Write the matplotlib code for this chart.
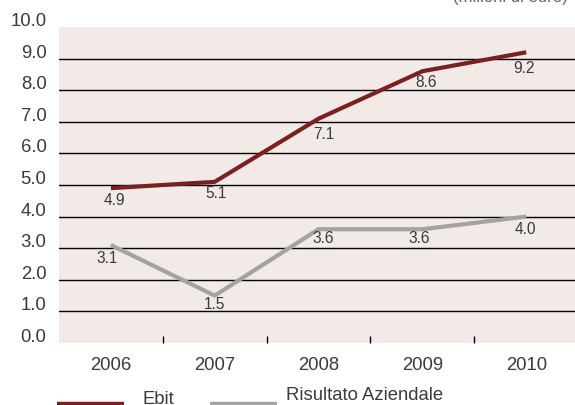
import matplotlib
matplotlib.use('Agg')
import matplotlib.pyplot as plt
from matplotlib.lines import Line2D
from matplotlib.ticker import FixedLocator
from matplotlib.transforms import ScaledTranslation

plt.rcParams['font.family'] = ['Liberation Sans', 'DejaVu Sans']

years = ['2006', '2007', '2008', '2009', '2010']
ebit = [4.9, 5.1, 7.1, 8.6, 9.2]
risultato = [3.1, 1.5, 3.6, 3.6, 4.0]
series_names = ['Ebit', 'Risultato Aziendale']
y_ticks = [0, 1, 2, 3, 4, 5, 6, 7, 8, 9, 10]

EBIT_COLOR = '#7b1f1f'
RIS_COLOR = '#a3a3a3'
BG_COLOR = '#f2eae7'
TEXT_COLOR = '#3a3a3a'

# label offsets in pixels (dx, dy) for each point
ebit_offsets = [(3, -12), (1, -12), (5, -16), (4, -11), (-2, -16)]
ris_offsets = [(-4, -13), (0, -9), (5, -9), (-3, -9), (-1, -13)]

W, H = 575, 405
fig = plt.figure(figsize=(W / 100, H / 100), dpi=100)
ax = fig.add_axes([59 / W, (H - 343) / H, 1 - 59 / W, 316 / H])
ax.set_facecolor(BG_COLOR)

x = list(range(len(years)))
ax.set_xlim(-0.5, 4.47)
ax.set_ylim(0, 10)

for v in y_ticks[1:-1]:
    ax.axhline(v, color='black', lw=1.0, zorder=1)

ax.plot(x, ebit, color=EBIT_COLOR, lw=3, solid_capstyle='butt', zorder=3)
ax.plot(x, risultato, color=RIS_COLOR, lw=3, solid_capstyle='butt', zorder=3)

for xi, v, (dx, dy) in zip(x, ebit, ebit_offsets):
    ax.annotate(f'{v:.1f}', (xi, v), xytext=(dx, dy), textcoords='offset pixels',
                ha='center', va='center', fontsize=11.2, color=TEXT_COLOR, zorder=4)
for xi, v, (dx, dy) in zip(x, risultato, ris_offsets):
    ax.annotate(f'{v:.1f}', (xi, v), xytext=(dx, dy), textcoords='offset pixels',
                ha='center', va='center', fontsize=11.2, color=TEXT_COLOR, zorder=4)

for s in ax.spines.values():
    s.set_visible(False)

ax.set_yticks(y_ticks)
ax.set_yticklabels([f'{v:.1f}' for v in y_ticks], fontsize=13.3, color=TEXT_COLOR,
                   va='center')
ax.tick_params(axis='y', length=0, pad=9)
# tick labels sit a little above their gridlines
shift_up = ScaledTranslation(0, 5.5 / 100, fig.dpi_scale_trans)
for lbl in ax.get_yticklabels():
    lbl.set_transform(lbl.get_transform() + shift_up)

ax.set_xticks(x)
ax.set_xticklabels(years, fontsize=13.3, color=TEXT_COLOR)
ax.tick_params(axis='x', which='major', length=0, pad=10)
ax.xaxis.set_minor_locator(FixedLocator([i + 0.5 for i in x[:-1]]))
ax.tick_params(axis='x', which='minor', direction='in', length=5, width=1,
               color='black')

# legend drawn along the bottom edge
fig.add_artist(Line2D([57 / W, 124 / W], [(H - 404) / H] * 2, color=EBIT_COLOR,
                      lw=3.2, solid_capstyle='butt'))
fig.add_artist(Line2D([210 / W, 277 / W], [(H - 404) / H] * 2, color=RIS_COLOR,
                      lw=3.2, solid_capstyle='butt'))
fig.text(142 / W, (H - 404.5) / H, series_names[0], fontsize=13.3,
         color=TEXT_COLOR, ha='left', va='baseline')
fig.text(286 / W, (H - 400) / H, series_names[1], fontsize=13.3,
         color=TEXT_COLOR, ha='left', va='baseline')

# unit note, clipped at top edge as in the source
fig.text(510 / W, (H - 2) / H, '(milioni di euro)', fontsize=12,
         color='#666666', ha='center', va='baseline')

fig.savefig('out.png', dpi=100)
